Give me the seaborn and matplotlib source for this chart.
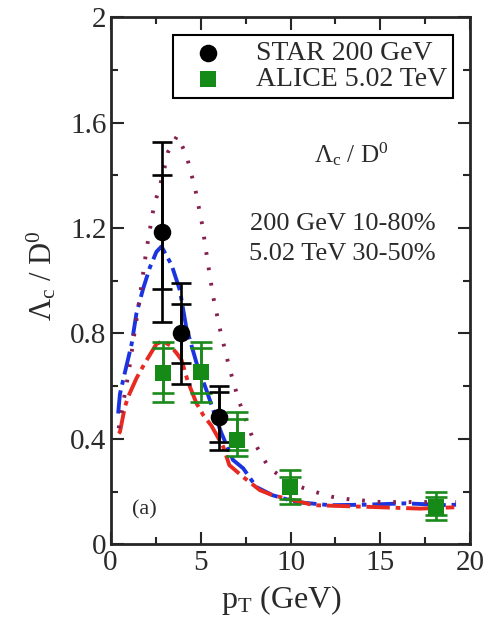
import numpy as np
import pandas as pd
import matplotlib
matplotlib.use("Agg")
import matplotlib.pyplot as plt
import seaborn as sns
from matplotlib.ticker import MultipleLocator

# ---- data ----
star_pt = [2.85, 3.9, 6.0]
star_y = [1.185, 0.80, 0.483]
star_stat_hi = [1.40, 0.913, 0.578]
star_stat_lo = [0.97, 0.686, 0.388]
star_sys_hi = [1.527, 0.99, 0.60]
star_sys_lo = [0.844, 0.607, 0.357]

alice_pt = [2.92, 5.0, 7.0, 9.96, 18.1]
alice_y = [0.648, 0.654, 0.395, 0.217, 0.142]
alice_stat_hi = [0.743, 0.743, 0.477, 0.255, 0.18]
alice_stat_lo = [0.572, 0.572, 0.357, 0.173, 0.11]
alice_sys_hi = [0.768, 0.768, 0.502, 0.281, 0.198]
alice_sys_lo = [0.54, 0.54, 0.334, 0.154, 0.091]

blue_pt = [0.42, 0.52, 0.79, 1.17, 1.44, 1.81, 2.18, 2.55, 2.83, 3.39, 3.85, 4.2, 4.78,
           5.33, 5.9, 6.17, 6.8, 7.37, 8.1, 9.0, 10.3, 12.2, 14.2, 16.4, 18.7, 19.2]
blue_y = [0.496, 0.57, 0.65, 0.76, 0.877, 0.97, 1.05, 1.11, 1.13, 1.06, 0.964, 0.825, 0.687,
          0.584, 0.47, 0.42, 0.32, 0.288, 0.217, 0.186, 0.16, 0.148, 0.15, 0.155, 0.148, 0.15]

red_pt = [0.45, 0.52, 0.79, 0.98, 1.44, 1.9, 2.55, 2.9, 3.3, 3.67, 3.94, 4.3, 4.78,
          5.15, 5.6, 6.26, 6.6, 7.37, 8.3, 9.0, 11.3, 14.2, 17.2, 19.1]
red_y = [0.42, 0.426, 0.52, 0.56, 0.63, 0.687, 0.76, 0.77, 0.755, 0.725, 0.70, 0.616, 0.534,
         0.49, 0.45, 0.37, 0.30, 0.255, 0.205, 0.186, 0.148, 0.142, 0.135, 0.14]

dot_pt = [0.45, 1.0, 1.5, 2.0, 2.4, 2.9, 3.2, 3.7, 4.2, 4.7, 5.1, 5.4, 5.7, 6.1, 6.6,
          7.1, 7.8, 8.2, 8.8, 10.0, 11.3, 12.3, 13.3, 15.0, 17.0, 19.2]
dot_y = [0.44, 0.65, 0.88, 1.12, 1.28, 1.40, 1.49, 1.55, 1.48, 1.35, 1.21, 1.07, 0.94, 0.81, 0.67,
         0.55, 0.42, 0.36, 0.29, 0.23, 0.20, 0.18, 0.17, 0.16, 0.16, 0.16]

sns.set_style("ticks")
plt.rcParams['font.family'] = ['Liberation Serif', 'DejaVu Serif']
plt.rcParams['mathtext.fontset'] = 'custom'
plt.rcParams['mathtext.rm'] = 'Liberation Serif'
plt.rcParams['mathtext.it'] = 'Liberation Serif:italic'

TXT = '#2a2a2a'
fig = plt.figure(figsize=(4.85, 6.17), dpi=100)
ax = fig.add_axes([0.228, 0.118, 0.742, 0.854])

curves = [(blue_pt, blue_y, '#1a35e0', (0, (6, 1.5, 1.2, 1.5))),
          (red_pt, red_y, '#e82a20', (0, (6, 1.5, 1.2, 1.5))),
          (dot_pt, dot_y, '#852050', (0, (0.7, 3.3)))]
for xs, ys, col, ls in curves:
    df = pd.DataFrame({'pt': xs, 'r': ys})
    sns.lineplot(data=df, x='pt', y='r', ax=ax, color=col, linewidth=2.8,
                 linestyle=ls, sort=False, zorder=2)

def draw_err(xs, ys, lo, hi, col, zo, cap):
    ys = np.array(ys)
    ax.errorbar(xs, ys, yerr=[ys - np.array(lo), np.array(hi) - ys], fmt='none',
                ecolor=col, elinewidth=1.9, capsize=cap, capthick=1.9, zorder=zo)

draw_err(alice_pt, alice_y, alice_sys_lo, alice_sys_hi, '#1a8a1a', 3, 8)
draw_err(alice_pt, alice_y, alice_stat_lo, alice_stat_hi, '#1a8a1a', 3, 8)
draw_err(star_pt, star_y, star_sys_lo, star_sys_hi, 'black', 4, 7)
draw_err(star_pt, star_y, star_stat_lo, star_stat_hi, 'black', 4, 7)

sns.scatterplot(x=alice_pt, y=alice_y, ax=ax, marker='s', s=135, color='#168a16',
                edgecolor='#168a16', linewidth=0, zorder=5, label='ALICE 5.02 TeV')
sns.scatterplot(x=star_pt, y=star_y, ax=ax, marker='o', s=160, color='black',
                edgecolor='black', linewidth=0, zorder=6, label='STAR 200 GeV')

handles, labels = ax.get_legend_handles_labels()
order = [labels.index('STAR 200 GeV'), labels.index('ALICE 5.02 TeV')]
leg = ax.legend([handles[i] for i in order], [labels[i] for i in order],
                loc='upper right', bbox_to_anchor=(0.951, 0.966), fontsize=20,
                frameon=True, fancybox=False, edgecolor='black', framealpha=1,
                handletextpad=0.7, borderpad=0.2, labelspacing=0.02,
                handlelength=2.1, borderaxespad=0)
leg.get_frame().set_linewidth(1.5)
for t in leg.get_texts():
    t.set_color(TXT)

ax.set_xlim(0, 20)
ax.set_ylim(0, 2)
ax.xaxis.set_minor_locator(MultipleLocator(2.5))
ax.yaxis.set_minor_locator(MultipleLocator(0.2))
ax.set_xticks([0, 5, 10, 15, 20])
ax.set_xticklabels(['0', '5', '10', '15', '20'])
ax.set_yticks([0, 0.4, 0.8, 1.2, 1.6, 2.0])
ax.set_yticklabels(['0', '0.4', '0.8', '1.2', '1.6', '2'])
ax.tick_params(which='both', direction='in', top=True, right=True, width=1.5,
               labelsize=21, pad=3, labelcolor=TXT)
ax.tick_params(axis='x', pad=4)
ax.tick_params(which='major', length=9)
ax.tick_params(which='minor', length=5)
for sp in ax.spines.values():
    sp.set_linewidth(2)

ax.set_xlabel(r'p$_\mathrm{T}$ (GeV)', fontsize=23, color=TXT)
ax.xaxis.set_label_coords(0.476, -0.074)
ax.set_ylabel(r'$\Lambda_\mathrm{c}$ / D$^0$', fontsize=22, color=TXT)
ax.yaxis.set_label_coords(-0.145, 0.51)

ax.text(13.4, 1.48, r'$\Lambda_\mathrm{c}$ / D$^0$', fontsize=18, ha='center', va='center', color=TXT)
ax.text(12.9, 1.215, '200 GeV 10-80%', fontsize=19, ha='center', va='center', color=TXT)
ax.text(12.9, 1.10, '5.02 TeV 30-50%', fontsize=19, ha='center', va='center', color=TXT)
ax.text(1.9, 0.13, '(a)', fontsize=16, ha='center', va='center', color=TXT)

fig.savefig('out.png', dpi=100)
